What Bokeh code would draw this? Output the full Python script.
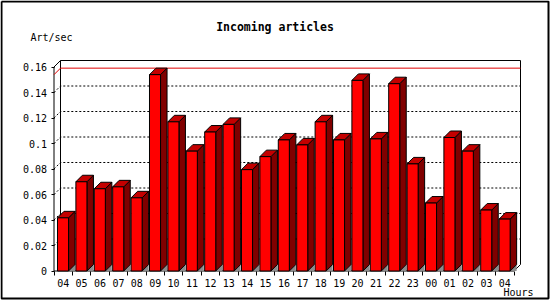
from bokeh.plotting import figure
from bokeh.models import LinearAxis, FixedTicker, Range1d
from bokeh.core.properties import value
from bokeh.embed import file_html
from bokeh.resources import INLINE

# ---- data ----
hours = ["04", "05", "06", "07", "08", "09", "10", "11", "12", "13", "14", "15",
         "16", "17", "18", "19", "20", "21", "22", "23", "00", "01", "02", "03", "04"]
rates = [0.0417, 0.0700, 0.0645, 0.0660, 0.0574, 0.1540, 0.1170, 0.0940, 0.1090,
         0.1150, 0.0795, 0.0897, 0.1028, 0.0989, 0.1170, 0.1028, 0.1495, 0.1036,
         0.1469, 0.0840, 0.0533, 0.1047, 0.0940, 0.0478, 0.0407]
y_tick_labels = ["0", "0.02", "0.04", "0.06", "0.08", "0.1", "0.12", "0.14", "0.16"]
title = "Incoming articles"
y_title = "Art/sec"
x_title = "Hours"

# ---- geometry (pixels) ----
W, H = 550, 300
X0 = 53.5          # pixel of front y axis
Y0 = 270.5         # pixel of value 0
PX = 18.4          # pixels per hour slot
PY = 1275.0        # pixels per unit value
DXP, DYP = 6.5, 6.5  # 3D depth in pixels

DX = DXP / PX
DY = DYP / PY
n = len(rates)
ymax = float(y_tick_labels[-1])

def sx(px):
    return (px - X0) / PX

def sy(py):
    return (Y0 - py) / PY

p = figure(width=W, height=H, output_backend="svg", toolbar_location=None,
           x_range=Range1d(sx(0), sx(W)), y_range=Range1d(sy(H), sy(0)),
           x_axis_type=None, y_axis_type=None, min_border=0)
p.outline_line_color = None
p.background_fill_color = "white"
p.border_fill_color = "white"

# outer frame
p.line([sx(1), sx(548), sx(548), sx(1), sx(1)], [sy(1), sy(1), sy(298), sy(298), sy(1)],
       line_color="black", line_width=2)

# walls
bx0, bx1 = DX, n + DX
p.line([bx0, bx1, bx1], [ymax + DY, ymax + DY, DY], line_color="black", line_width=1)
p.line([bx0, bx0], [DY, ymax + DY], line_color="black", line_width=1)
p.line([0, bx0], [ymax, ymax + DY], line_color="black", line_width=1)
p.line([0, 0], [0, ymax], line_color="black", line_width=1)
p.line([0, n, n + DX], [0, 0, DY], line_color="black", line_width=1)

# grid lines
for lab in y_tick_labels[1:-1]:
    v = float(lab)
    p.line([0, bx0, bx1], [v, v + DY, v + DY], line_color="black", line_width=1,
           line_dash="2 2")

# max line
m = max(rates)
p.line([0, bx0, bx1], [m, m + DY, m + DY], line_color="#e00000", line_width=1)

# bars
L, R = 0.19, 0.79
for i, v in enumerate(rates):
    xl, xr = i + L, i + R
    p.patch([xr, xr + DX, xr + DX], [0, DY, 0], fill_color="#8c8c8c", line_color=None)
    p.patch([xr, xr + DX, xr + DX, xr], [0, DY, v + DY, v],
            fill_color="#800000", line_color="black", line_width=1)
    p.patch([xl, xl + DX, xr + DX, xr], [v, v + DY, v + DY, v],
            fill_color="#c40000", line_color="black", line_width=1)
    p.quad(left=[xl], right=[xr], bottom=[0], top=[v],
           fill_color="#ff0000", line_color="black", line_width=1)

# axes
font = "DejaVu Sans Mono"
yvals = [float(t) for t in y_tick_labels]
yaxis = LinearAxis(fixed_location=0, ticker=FixedTicker(ticks=yvals),
                   major_label_overrides={float(t): t for t in y_tick_labels},
                   axis_line_color=None, major_tick_out=3, major_tick_in=0,
                   major_tick_line_color="black", minor_tick_line_color=None,
                   major_label_standoff=4, major_label_text_font=font,
                   major_label_text_font_size="10px", major_label_text_color="black")
p.add_layout(yaxis, "left")

centers = [i + 0.5 for i in range(n)]
bounds = [float(i) for i in range(n + 1)]
xaxis = LinearAxis(fixed_location=0, ticker=FixedTicker(ticks=centers, minor_ticks=bounds),
                   major_label_overrides={c: h for c, h in zip(centers, hours)},
                   axis_line_color=None, major_tick_line_color=None,
                   major_tick_out=0, major_tick_in=0,
                   minor_tick_out=4, minor_tick_in=0, minor_tick_line_color="black",
                   major_label_standoff=4, major_label_text_font=font,
                   major_label_text_font_size="10px", major_label_text_color="black")
p.add_layout(xaxis, "below")

# texts
p.text(x=[sx(274.5)], y=[sy(26.5)], text=[title], text_font=value(font),
       text_font_style="bold", text_font_size="11.5px", text_align="center",
       text_baseline="middle", text_color="black")
p.text(x=[sx(30)], y=[sy(37)], text=[y_title], text_font=value(font),
       text_font_size="10px", text_align="left", text_baseline="middle", text_color="black")
p.text(x=[sx(533)], y=[sy(292)], text=[x_title], text_font=value(font),
       text_font_size="10px", text_align="right", text_baseline="middle", text_color="black")

open("out.html", "w").write(file_html(p, INLINE))
